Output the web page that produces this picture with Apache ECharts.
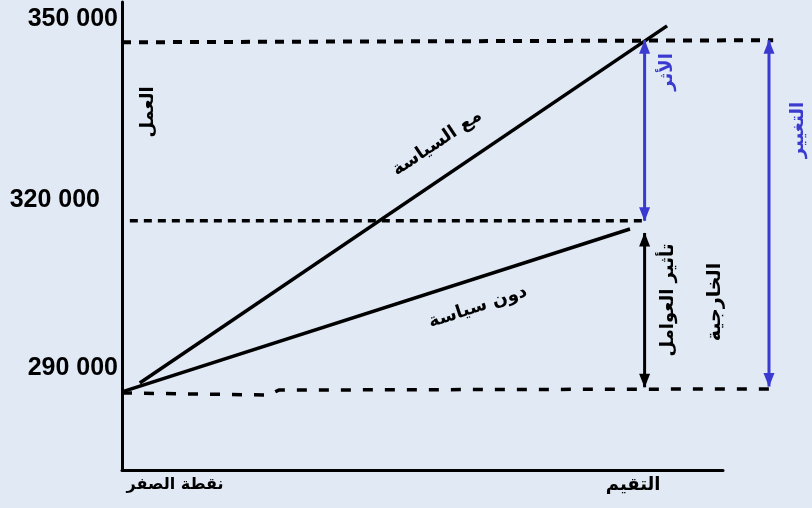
<!DOCTYPE html>
<html>
<head>
<meta charset="utf-8">
<script src="https://cdn.jsdelivr.net/npm/echarts@6/dist/echarts.min.js"></script>
<style>
html,body{margin:0;padding:0;background:#e1e9f5}
#main{width:812px;height:508px}
</style>
</head>
<body>
<div id="main"></div>
<script>
// y ticks and their labels
var yTicks = [290000, 320000, 350000];
var yTickLabels = ['290 000', '320 000', '350 000'];
// x positions: zero point and evaluation
var xTicks = [0, 10];
var xTickLabels = ['نقطة الصفر', 'التقيم'];

// lines, [x, employment]
var withPolicy = [[0.34, 291700], [10.43, 352900]];
var withoutPolicy = [[0, 290200], [9.72, 318100]];
var topLevel = [[0, 350100], [12.46, 350450]];
var midLevel = [[0.15, 319500], [9.95, 319500]];
var baseLevel = [[0, 290000], [2.8, 289650], [3.0, 290500], [12.4, 290700]];

// arrows (tip to tip)
var effectArrow = [[10, 350450], [10, 319500]];
var externalArrow = [[10, 317400], [10, 291000]];
var changeArrow = [[12.38, 350450], [12.38, 291100]];

// texts placed in data units
var notes = [
    {text: 'العمل', at: [0.5, 338150], rotate: 90, color: '#000', size: 18},
    {text: 'مع السياسة', at: [6.03, 332840], rotate: 34, color: '#000', size: 18},
    {text: 'دون سياسة', at: [6.81, 304735], rotate: 18, color: '#000', size: 18},
    {text: 'الأثر', at: [10.43, 345010], rotate: 90, color: '#3a3ad0', size: 18},
    {text: 'التغيير', at: [12.95, 335070], rotate: 90, color: '#3a3ad0', size: 18},
    {text: 'تأثير العوامل', at: [10.45, 305935], rotate: 90, color: '#000', size: 18},
    {text: 'الخارجية', at: [11.35, 305592], rotate: 90, color: '#000', size: 19}
];

var BLUE = '#3a3ad0';
var X_MAX = 11.5;     // end of the drawn x axis
var X_WIDE = 13.2;    // same scale, room for the marks right of the axis
var Y_MIN = 276800, Y_MAX = 357000;

function arrowSeries(pts, color) {
    return {
        type: 'line',
        xAxisIndex: 1,
        yAxisIndex: 1,
        data: [
            {value: pts[0], symbolRotate: 0, symbolOffset: [0, 6.5]},
            {value: pts[1], symbolRotate: 180, symbolOffset: [0, -6.5]}
        ],
        symbol: 'triangle',
        symbolSize: [11, 14],
        showAllSymbol: true,
        silent: true,
        itemStyle: {color: color, borderWidth: 0},
        lineStyle: {color: color, width: 3}
    }
}

function plainLine(pts, width, dash) {
    return {
        type: 'line',
        xAxisIndex: 1,
        yAxisIndex: 1,
        data: pts,
        symbol: 'none',
        silent: true,
        lineStyle: {color: '#000', width: width, type: dash || 'solid', cap: 'butt'}
    }
}

var yRich = {
    r290: {padding: [0, 0, 50, 0]},
    r320: {padding: [0, 18, 36, 0]},
    r350: {padding: [0, 0, 47, 0]}
};
for (var k in yRich) {
    yRich[k].fontSize = 25;
    yRich[k].fontWeight = 'bold';
    yRich[k].fontFamily = 'Liberation Sans';
    yRich[k].color = '#000';
    yRich[k].lineHeight = 26;
}
var xRich = {
    x0: {padding: [0, 0, 0, 106], fontSize: 16},
    x1: {padding: [0, 23, 0, 0], fontSize: 18}
};
for (var k2 in xRich) {
    xRich[k2].fontWeight = 'bold';
    xRich[k2].fontFamily = 'DejaVu Sans';
    xRich[k2].color = '#000';
    xRich[k2].lineHeight = 22;
}

var plotW = X_WIDE / X_MAX * (812 - 122 - 89);

var option = {
    backgroundColor: '#e1e9f5',
    animation: false,
    grid: [
        {left: 122, right: 89, top: 2, bottom: 38, containLabel: false, outerBoundsMode: 'none'},
        {left: 122, width: plotW, top: 2, bottom: 38, containLabel: false, outerBoundsMode: 'none'}
    ],
    xAxis: [{
        type: 'value',
        gridIndex: 0,
        min: 0,
        max: X_MAX,
        axisLine: {show: true, onZero: false, lineStyle: {color: '#000', width: 3}},
        axisTick: {show: false},
        splitLine: {show: false},
        axisLabel: {
            margin: 4,
            customValues: xTicks,
            formatter: function (v) {
                var i = xTicks.indexOf(v);
                return i < 0 ? '' : '{x' + i + '|' + xTickLabels[i] + '}';
            },
            rich: xRich
        }
    }, {
        type: 'value',
        gridIndex: 1,
        min: 0,
        max: X_WIDE,
        show: false
    }],
    yAxis: [{
        type: 'value',
        gridIndex: 0,
        min: Y_MIN,
        max: Y_MAX,
        axisLine: {show: true, lineStyle: {color: '#000', width: 3}},
        axisTick: {show: false},
        splitLine: {show: false},
        axisLabel: {
            margin: 4,
            customValues: yTicks,
            formatter: function (v) {
                var i = yTicks.indexOf(v);
                return i < 0 ? '' : '{r' + yTicks[i] / 1000 + '|' + yTickLabels[i] + '}';
            },
            rich: yRich
        }
    }, {
        type: 'value',
        gridIndex: 1,
        min: Y_MIN,
        max: Y_MAX,
        show: false
    }],
    series: [
        plainLine(topLevel, 4, [9, 8]),
        plainLine(midLevel, 3.5, [8, 6]),
        plainLine(baseLevel, 3.5, [10, 12]),
        plainLine(withoutPolicy, 3.5),
        plainLine(withPolicy, 3.5),
        arrowSeries(effectArrow, BLUE),
        arrowSeries(externalArrow, '#000'),
        arrowSeries(changeArrow, BLUE)
    ]
};

var chart = echarts.init(document.getElementById('main'));
chart.setOption(option);

var texts = notes.map(function (n) {
    var p = chart.convertToPixel({gridIndex: 1}, n.at);
    return {
        type: 'text',
        x: p[0],
        y: p[1],
        rotation: n.rotate * Math.PI / 180,
        silent: true,
        style: {
            text: n.text,
            fill: n.color,
            font: 'bold ' + n.size + 'px "DejaVu Sans"',
            align: 'center',
            verticalAlign: 'middle'
        }
    }
});
chart.setOption({graphic: texts});
</script>
</body>
</html>
